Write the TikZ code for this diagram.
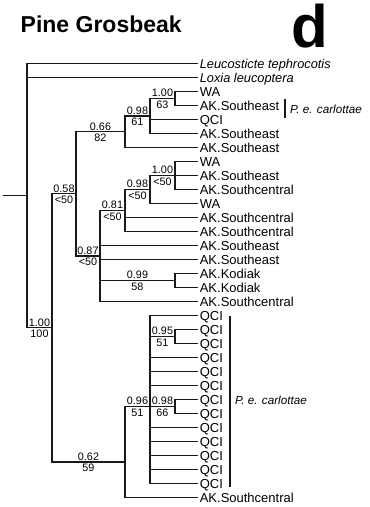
\documentclass[tikz,border=0pt]{standalone}
\usepackage{fontspec}
\setmainfont{Liberation Sans}
\begin{document}
\begin{tikzpicture}[x=1pt,y=-1pt,
  br/.style={line width=1.15pt, black!90},
  leaf/.style={anchor=west, inner xsep=1.6pt, inner ysep=0pt, text height=9.3pt, text depth=0pt, text=black, font=\fontsize{13}{14}\selectfont},
  leafi/.style={leaf, font=\fontsize{12.8}{14}\selectfont\itshape},
  postlab/.style={above, inner sep=1.4pt, text height=7.7pt, text depth=0pt, text=black, font=\fontsize{10.8}{12}\selectfont},
  bootlab/.style={below, inner sep=1.8pt, text height=7.7pt, text depth=0pt, text=black, font=\fontsize{10.8}{12}\selectfont},
  subbar/.style={line width=2.2pt, black!90},
  subsp/.style={anchor=west, text=black, font=\fontsize{11.7}{13}\selectfont\itshape}
]
\useasboundingbox (0,0) rectangle (370,507);

% title
\node[anchor=base west, inner sep=0pt, text=black, font=\fontsize{23}{26}\selectfont\bfseries] (title) at (20.5,32) {Pine Grosbeak};
\node[anchor=base west, inner sep=0pt, text=black, font=\fontsize{60}{60}\selectfont\bfseries] (panel) at (291,47) {d};

% leaves
\node[leafi] (l1) at (198,63.5) {Leucosticte tephrocotis};
\node[leafi] (l2) at (198,77.5) {Loxia leucoptera};
\node[leaf] (l3) at (198,91.5) {WA};
\node[leaf] (l4) at (198,105.5) {AK.Southeast};
\node[leaf] (l5) at (198,119.5) {QCI};
\node[leaf] (l6) at (198,133.5) {AK.Southeast};
\node[leaf] (l7) at (198,147.5) {AK.Southeast};
\node[leaf] (l8) at (198,161.5) {WA};
\node[leaf] (l9) at (198,175.5) {AK.Southeast};
\node[leaf] (l10) at (198,189.5) {AK.Southcentral};
\node[leaf] (l11) at (198,203.5) {WA};
\node[leaf] (l12) at (198,217.5) {AK.Southcentral};
\node[leaf] (l13) at (198,231.5) {AK.Southcentral};
\node[leaf] (l14) at (198,245.5) {AK.Southeast};
\node[leaf] (l15) at (198,259.5) {AK.Southeast};
\node[leaf] (l16) at (198,273.5) {AK.Kodiak};
\node[leaf] (l17) at (198,287.5) {AK.Kodiak};
\node[leaf] (l18) at (198,301.5) {AK.Southcentral};
\node[leaf] (l19) at (198,315.5) {QCI};
\node[leaf] (l20) at (198,329.5) {QCI};
\node[leaf] (l21) at (198,343.5) {QCI};
\node[leaf] (l22) at (198,357.5) {QCI};
\node[leaf] (l23) at (198,371.5) {QCI};
\node[leaf] (l24) at (198,385.5) {QCI};
\node[leaf] (l25) at (198,399.5) {QCI};
\node[leaf] (l26) at (198,413.5) {QCI};
\node[leaf] (l27) at (198,427.5) {QCI};
\node[leaf] (l28) at (198,441.5) {QCI};
\node[leaf] (l29) at (198,455.5) {QCI};
\node[leaf] (l30) at (198,469.5) {QCI};
\node[leaf] (l31) at (198,483.5) {QCI};
\node[leaf] (l32) at (198,497.5) {AK.Southcentral};

% internal nodes
\coordinate (stub) at (3,195.7);
\coordinate (R) at (27,195.7);
\coordinate (A) at (52,327.9);
\coordinate (B) at (76,193.9);
\coordinate (C) at (125,131.75);
\coordinate (D) at (150,116);
\coordinate (F) at (175,98.5);
\coordinate (E) at (100,256);
\coordinate (G) at (125,210.5);
\coordinate (I) at (150,189.5);
\coordinate (J) at (175,175.5);
\coordinate (H) at (175,280.5);
\coordinate (L) at (125,462);
\coordinate (M) at (150,406.5);
\coordinate (N) at (175,336.5);
\coordinate (O) at (175,406.5);

% branches
\draw[br] (stub) -- (R);
\draw[br] (R) |- (l1.west) (R) |- (l2.west) (R) |- (A);
\draw[br] (A) |- (B) (A) |- (L);
\draw[br] (B) |- (C) (B) |- (E);
\draw[br] (C) |- (D) (C) |- (l7.west);
\draw[br] (D) |- (F) (D) |- (l5.west) (D) |- (l6.west);
\draw[br] (F) |- (l3.west) (F) |- (l4.west);
\draw[br] (E) |- (G) (E) |- (l14.west) (E) |- (l15.west) (E) |- (H) (E) |- (l18.west);
\draw[br] (G) |- (I) (G) |- (l12.west) (G) |- (l13.west);
\draw[br] (I) |- (J) (I) |- (l11.west);
\draw[br] (J) |- (l8.west) (J) |- (l9.west) (J) |- (l10.west);
\draw[br] (H) |- (l16.west) (H) |- (l17.west);
\draw[br] (L) |- (M) (L) |- (l32.west);
\draw[br] (M) |- (l19.west) (M) |- (N) (M) |- (l22.west) (M) |- (l23.west) (M) |- (l24.west)
          (M) |- (O) (M) |- (l27.west) (M) |- (l28.west) (M) |- (l29.west) (M) |- (l30.west) (M) |- (l31.west);
\draw[br] (N) |- (l20.west) (N) |- (l21.west);
\draw[br] (O) |- (l25.west) (O) |- (l26.west);

% support values
\path (R |- A) -- (A) node[midway,postlab] (pA) {1.00} node[midway,bootlab] (bA) {100};
\path (A |- B) -- (B) node[midway,postlab] (pB) {0.58} node[midway,bootlab] (bB) {<50};
\path (B |- C) -- (C) node[midway,postlab] (pC) {0.66} node[midway,bootlab] (bC) {82};
\path (C |- D) -- (D) node[midway,postlab] (pD) {0.98} node[midway,bootlab] (bD) {61};
\path (D |- F) -- (F) node[midway,postlab] (pF) {1.00} node[midway,bootlab] (bF) {63};
\path (B |- E) -- (E) node[midway,postlab] (pE) {0.87} node[midway,bootlab] (bE) {<50};
\path (E |- G) -- (G) node[midway,postlab] (pG) {0.81} node[midway,bootlab] (bG) {<50};
\path (G |- I) -- (I) node[midway,postlab] (pI) {0.98} node[midway,bootlab] (bI) {<50};
\path (I |- J) -- (J) node[midway,postlab] (pJ) {1.00} node[midway,bootlab] (bJ) {<50};
\path (E |- H) -- (H) node[midway,postlab] (pH) {0.99} node[midway,bootlab] (bH) {58};
\path (A |- L) -- (L) node[midway,postlab] (pL) {0.62} node[midway,bootlab] (bL) {59};
\path (L |- M) -- (M) node[midway,postlab] (pM) {0.96} node[midway,bootlab] (bM) {51};
\path (M |- N) -- (N) node[midway,postlab] (pN) {0.95} node[midway,bootlab] (bN) {51};
\path (M |- O) -- (O) node[midway,postlab] (pO) {0.98} node[midway,bootlab] (bO) {66};

% subspecies bars
\coordinate (u1) at (285,99);
\coordinate (u2) at (285,118);
\draw[subbar] (u1) -- (u2);
\node[subsp] (s1) at (286.5,109) {P. e. carlottae};
\coordinate (d1) at (230,316);
\coordinate (d2) at (230,487);
\draw[subbar] (d1) -- (d2);
\node[subsp] (s2) at (231.5,400) {P. e. carlottae};
\end{tikzpicture}
\end{document}
